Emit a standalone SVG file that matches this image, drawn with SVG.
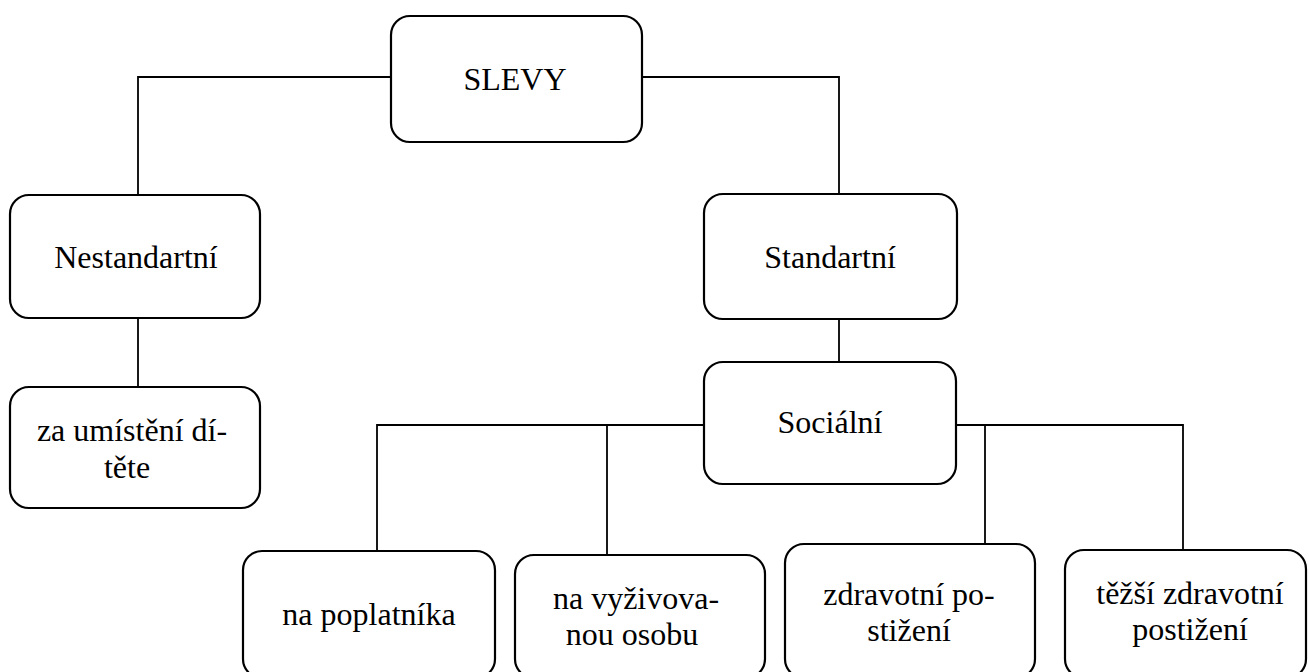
<svg xmlns="http://www.w3.org/2000/svg" width="1309" height="672" viewBox="0 0 1309 672">
<style>
.box{fill:#fff;stroke:#000;stroke-width:2.2}
.ln{fill:none;stroke:#000;stroke-width:1.8}
text{font-family:"Liberation Serif","Times New Roman",serif;font-size:32px;fill:#000;text-anchor:middle}
</style>
<rect width="1309" height="672" fill="#fff"/>
<g id="connectors">
<polyline class="ln" points="391,77 138,77 138,195"/>
<polyline class="ln" points="642,77 839,77 839,194"/>
<line class="ln" x1="138" y1="318" x2="138" y2="387"/>
<line class="ln" x1="839" y1="319" x2="839" y2="362"/>
<polyline class="ln" points="704,425 377,425 377,551"/>
<line class="ln" x1="607" y1="425" x2="607" y2="555"/>
<polyline class="ln" points="956,425 1183,425 1183,550"/>
<line class="ln" x1="985" y1="425" x2="985" y2="544"/>
</g>
<g id="slevy"><rect class="box" x="391" y="16" width="251" height="126" rx="19"/><text x="515" y="90">SLEVY</text></g>
<g id="nestandartni"><rect class="box" x="10" y="195" width="250" height="123" rx="19"/><text x="136" y="268">Nestandartní</text></g>
<g id="umisteni"><rect class="box" x="10" y="387" width="250" height="121" rx="19"/><text x="132" y="441">za umístění dí-</text><text x="127" y="478">těte</text></g>
<g id="standartni"><rect class="box" x="704" y="194" width="253" height="125" rx="19"/><text x="830" y="268">Standartní</text></g>
<g id="socialni"><rect class="box" x="704" y="362" width="252" height="122" rx="19"/><text x="830" y="433">Sociální</text></g>
<g id="poplatnik"><rect class="box" x="243" y="551" width="252" height="127" rx="19"/><text x="369" y="625">na poplatníka</text></g>
<g id="vyzivovana"><rect class="box" x="515" y="555" width="250" height="123" rx="19"/><text x="636" y="609">na vyživova-</text><text x="632" y="645">nou osobu</text></g>
<g id="zdravotni"><rect class="box" x="785" y="544" width="250" height="134" rx="19"/><text x="909" y="605">zdravotní po-</text><text x="909" y="641">stižení</text></g>
<g id="tezsi"><rect class="box" x="1065" y="550" width="241" height="128" rx="19"/><text x="1190" y="604">těžší zdravotní</text><text x="1190" y="640">postižení</text></g>
</svg>
